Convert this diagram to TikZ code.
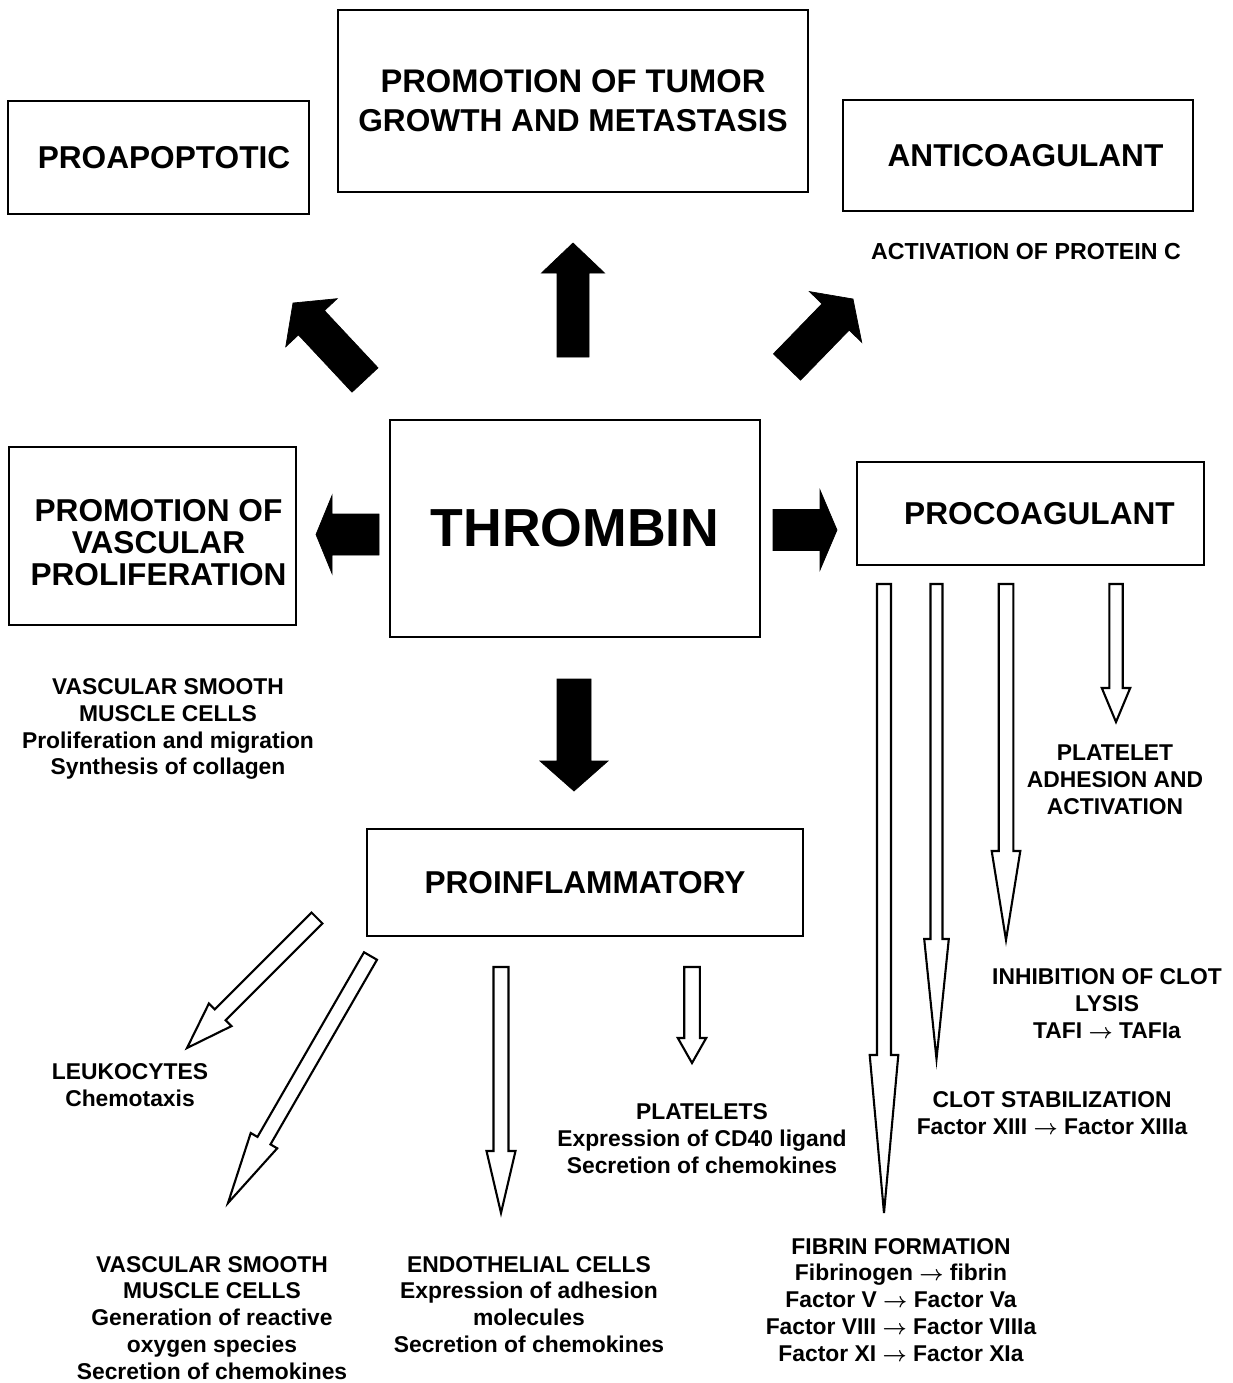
\documentclass[tikz,border=0pt]{standalone}
\usepackage{fontspec}
\setmainfont{Liberation Sans}
\usetikzlibrary{calc}

\newcommand{\boxfont}{\bfseries\fontsize{18}{22}\selectfont}
\newcommand{\notefont}{\bfseries\boldmath\fontsize{13}{15.3}\selectfont}
\newcommand{\thrfont}{\bfseries\fontsize{30.5}{36}\selectfont}

% block arrow: style, from, to, half shaft, half head, head length (in px)
\newcommand{\blockarrow}[6]{%
  \coordinate (ba-h) at ($(#3)!#6*0.02cm!(#2)$);
  \draw[#1] ($(#2)!#4*0.02cm!90:(#3)$) -- ($(ba-h)!#4*0.02cm!90:(#3)$)
    -- ($(ba-h)!#5*0.02cm!90:(#3)$) -- (#3) -- ($(ba-h)!#5*0.02cm!-90:(#3)$)
    -- ($(ba-h)!#4*0.02cm!-90:(#3)$) -- ($(#2)!#4*0.02cm!-90:(#3)$) -- cycle;
}

\begin{document}
\begin{tikzpicture}[x=0.02cm,y=-0.02cm,every text node part/.style={align=center},
    box/.style={draw,line width=1.1pt,inner sep=0pt,font=\boxfont},
    note/.style={inner sep=0pt,font=\notefont},
    blackarrow/.style={draw=black,fill=black,line width=0.4pt,line join=miter},
    openarrow/.style={draw=black,fill=white,line width=1.2pt,line join=miter}]

    \useasboundingbox (0,0) rectangle (1232,1383);

    % --------------------------------------------------------- %
    % ------------- principal node (Thrombin)
    % --------------------------------------------------------- %
    \node[box,minimum width=7.4cm,minimum height=4.34cm] (thrombin) at (575,528.5) {\thrfont THROMBIN};

    % --------------------------------------------------------- %
    % ------------- upper effects
    % --------------------------------------------------------- %
    \node[box,minimum width=6.02cm,minimum height=2.26cm] (proapo) at (158.5,157.5) {\hspace*{0.22cm}PROAPOPTOTIC};
    \node[box,minimum width=9.4cm,minimum height=3.64cm] (tumor) at (573,101) {\fontsize{18.6}{22.4}\selectfont PROMOTION OF TUMOR\\GROWTH AND METASTASIS};
    \node[box,minimum width=7cm,minimum height=2.22cm] (anticoag) at (1018,155.5) {\hspace*{0.3cm}ANTICOAGULANT};
    \node[note,font=\bfseries\fontsize{13.2}{16}\selectfont] (protc) at (1026,252) {ACTIVATION OF PROTEIN C};

    \coordinate (up-s) at (573,357);  \coordinate (up-e) at (573,243);
    \coordinate (nw-s) at (365,380);  \coordinate (nw-e) at (293,303);
    \coordinate (ne-s) at (787,367);  \coordinate (ne-e) at (853,299);
    \blockarrow{blackarrow}{up-s}{up-e}{16}{31.5}{30}
    \blockarrow{blackarrow}{nw-s}{nw-e}{17.8}{35.2}{27}
    \blockarrow{blackarrow}{ne-s}{ne-e}{18.9}{36.4}{25}

    % --------------------------------------------------------- %
    % ------------- vascular proliferation
    % --------------------------------------------------------- %
    \node[box,minimum width=5.74cm,minimum height=3.56cm] (prolif) at (152.5,536) {};
    \node[inner sep=0pt,font=\bfseries\fontsize{18}{18.2}\selectfont] (prolif-text) at ($(prolif.center)+(6,7)$) {PROMOTION OF\\VASCULAR\\PROLIFERATION};
    \node[note] (vsmcprol) at (168,729) {VASCULAR SMOOTH\\MUSCLE CELLS\\Proliferation and migration\\Synthesis of collagen};

    \coordinate (lt-s) at (379,534.5); \coordinate (lt-e) at (316,534.5);
    \blockarrow{blackarrow}{lt-s}{lt-e}{20.5}{39}{16}

    % --------------------------------------------------------- %
    % ------------- procoagulant
    % --------------------------------------------------------- %
    \node[box,minimum width=6.94cm,minimum height=2.06cm] (procoag) at (1030.5,513.5) {\hspace*{0.36cm}PROCOAGULANT};

    \coordinate (rt-s) at (773,530); \coordinate (rt-e) at (837,530);
    \blockarrow{blackarrow}{rt-s}{rt-e}{20.5}{40}{17}

    \node[note] (platadh) at (1115,780) {PLATELET\\ADHESION AND\\ACTIVATION};
    \node[note] (lysis) at (1107,1004) {INHIBITION OF CLOT\\LYSIS\\TAFI $\rightarrow$ TAFIa};
    \node[note] (clotstab) at (1052,1113) {CLOT STABILIZATION\\Factor XIII $\rightarrow$ Factor XIIIa};
    \node[note] (fibrin) at (901,1300) {FIBRIN FORMATION\\Fibrinogen $\rightarrow$ fibrin\\Factor V $\rightarrow$ Factor Va\\Factor VIII $\rightarrow$ Factor VIIIa\\Factor XI $\rightarrow$ Factor XIa};

    \coordinate (fa-s) at (884,584);  \coordinate (fa-e) at (884,1213);
    \coordinate (fb-s) at (936.5,584); \coordinate (fb-e) at (936.5,1059);
    \coordinate (fc-s) at (1006,584); \coordinate (fc-e) at (1006,940);
    \coordinate (fd-s) at (1116,584); \coordinate (fd-e) at (1116,722);
    \blockarrow{openarrow}{fa-s}{fa-e}{7}{14.3}{158}
    \blockarrow{openarrow}{fb-s}{fb-e}{6}{12.3}{120}
    \blockarrow{openarrow}{fc-s}{fc-e}{7.3}{14.3}{89}
    \blockarrow{openarrow}{fd-s}{fd-e}{6.7}{14.2}{34}

    % --------------------------------------------------------- %
    % ------------- proinflammatory
    % --------------------------------------------------------- %
    \coordinate (dn-s) at (574,679); \coordinate (dn-e) at (574,791);
    \blockarrow{blackarrow}{dn-s}{dn-e}{17}{34}{30}

    \node[box,minimum width=8.72cm,minimum height=2.14cm] (proinfl) at (585,882.5) {PROINFLAMMATORY};

    \node[note] (leuko) at (130,1085.5) {LEUKOCYTES\\Chemotaxis};
    \node[note] (vsmcros) at (212,1318) {VASCULAR SMOOTH\\MUSCLE CELLS\\Generation of reactive\\oxygen species\\Secretion of chemokines};
    \node[note] (endo) at (529,1304.5) {ENDOTHELIAL CELLS\\Expression of adhesion\\molecules\\Secretion of chemokines};
    \node[note] (platelets) at (702,1139) {PLATELETS\\Expression of CD40 ligand\\Secretion of chemokines};

    \coordinate (ia-s) at (317,918);   \coordinate (ia-e) at (187,1048);
    \coordinate (ib-s) at (370.5,956); \coordinate (ib-e) at (228,1203);
    \coordinate (ic-s) at (501,967);   \coordinate (ic-e) at (501,1213);
    \coordinate (id-s) at (692,967);   \coordinate (id-e) at (692,1063);
    \blockarrow{openarrow}{ia-s}{ia-e}{7.7}{16}{47}
    \blockarrow{openarrow}{ib-s}{ib-e}{7.5}{15.3}{72}
    \blockarrow{openarrow}{ic-s}{ic-e}{7.5}{14.5}{62}
    \blockarrow{openarrow}{id-s}{id-e}{7.8}{14.2}{25}

\end{tikzpicture}
\end{document}
